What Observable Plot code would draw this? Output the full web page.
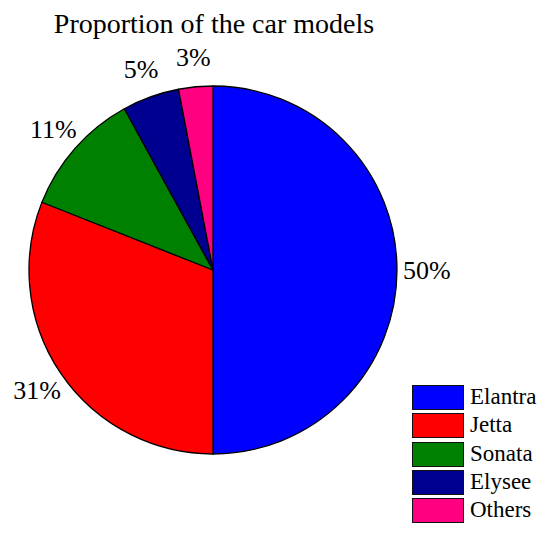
<!DOCTYPE html>
<html><head><meta charset="utf-8">
<script src="https://cdn.jsdelivr.net/npm/d3@7"></script>
<script src="https://cdn.jsdelivr.net/npm/@observablehq/plot@0.6"></script>
<style>
body{margin:0;background:#fff;font-family:"Liberation Serif",serif;}
#wrap{position:relative;width:550px;height:541px;overflow:hidden;}
#title{margin-top:4px;height:40px;line-height:40px;font-size:28px;text-align:center;width:428px;color:#000;white-space:nowrap;font-family:"Liberation Serif",serif;}
#chart{height:497px;}
#legend{position:absolute;left:412px;top:385px;}
.item{position:relative;height:28.3px;}
.sw{position:absolute;left:0;top:0;width:52px;height:25px;box-sizing:border-box;border:1.6px solid #111;}
.lab{position:absolute;left:58px;top:-3px;line-height:30px;font-size:23px;color:#000;white-space:nowrap;font-family:"Liberation Serif",serif;}
</style></head><body>
<div id="wrap"><div id="title">Proportion of the car models</div><div id="chart"></div><div id="legend"></div></div>
<script>
const models = ["Elantra","Jetta","Sonata","Elysee","Others"];
const shares = [50,31,11,5,3];
const colors = ["#0000FF","#FF0000","#008000","#000090","#FF0080"];
const labels = ["50%","31%","11%","5%","3%"];

const data = models.map((m,i)=>({model:m, share:shares[i], color:colors[i], label:labels[i]}));
const arcs = d3.pie().sort(null).value(d=>d.share)(data);
const labelPos = arcs.map(a=>{
  const mid=(a.startAngle+a.endAngle)/2;
  return {x:1.16*Math.sin(mid), y:1.16*Math.cos(mid), text:a.data.label};
});

function slices(index, scales) {
  const cx = scales.x(0), cy = scales.y(0);
  const r = scales.x(1) - scales.x(0);
  const g = d3.create("svg:g").attr("transform", `translate(${cx},${cy})`);
  const arc = d3.arc().innerRadius(0).outerRadius(r);
  g.selectAll("path").data(arcs).join("path")
    .attr("d", arc).attr("fill", d=>d.data.color)
    .attr("stroke","#000").attr("stroke-width",1.3).attr("stroke-linejoin","round");
  return g.node();
}

const chart = Plot.plot({
  width:550, height:497, margin:0,
  style:{background:"#fff"},
  x:{domain:[-1,1], range:[29,397], axis:null},
  y:{domain:[-1,1], range:[410,42], axis:null},
  marks:[
    slices,
    Plot.text(labelPos,{x:"x", y:"y", text:"text", fontSize:26, fontFamily:"Liberation Serif", fill:"#000", textAnchor:"middle", lineAnchor:"middle"})
  ]
});
document.getElementById("chart").appendChild(chart);

const leg = d3.select("#legend");
const items = leg.selectAll(".item").data(data).join("div").attr("class","item");
items.append("div").attr("class","sw").style("background", d=>d.color);
items.append("div").attr("class","lab").text(d=>d.model);
</script>
</body></html>
